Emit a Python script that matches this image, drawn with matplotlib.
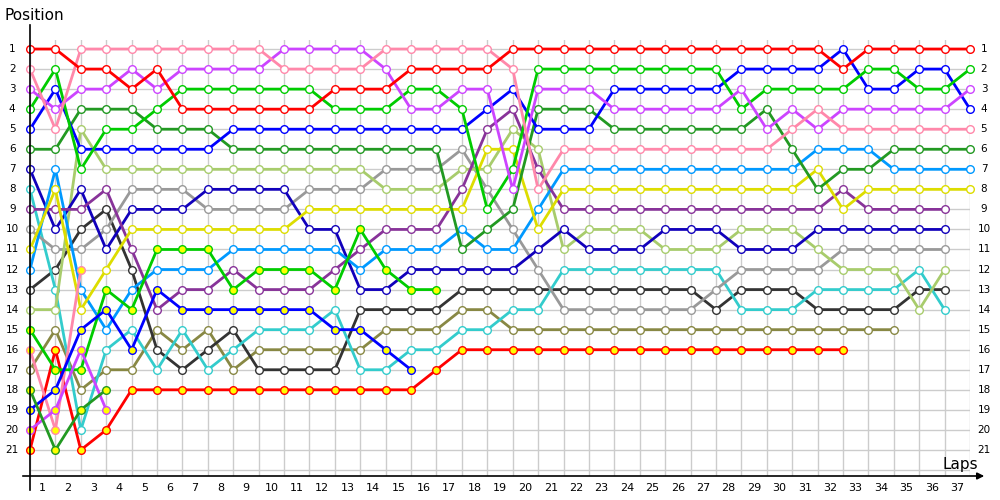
import matplotlib.pyplot as plt

# positions par tour (index 0 = grille de départ)
red = [1, 1, 2, 2, 3, 2] + [4] * 6 + [3] * 3 + [2] * 4 + [1] * 13 + [2] + [1] * 5
pink = [2, 5] + [1] * 8 + [2] * 4 + [1] * 5 + [2, 8] + [6] * 9 + [5, 4] + [5] * 6
purple = [3, 4, 3, 3, 2, 3] + [2] * 4 + [1] * 4 + [2, 4, 4, 3, 3, 8] + [3] * 3 + [4] * 5 + [3, 5, 4, 5] + [4] * 5 + [3]
green = [4, 2, 7, 5, 5, 4] + [3] * 6 + [4] * 3 + [3, 3, 4, 9, 7] + [2] * 8 + [4] + [3] * 4 + [2, 2, 3, 3, 2]
blue = [5, 3] + [6] * 6 + [5] * 10 + [4, 3] + [5] * 3 + [3] * 5 + [2] * 4 + [1, 3, 3, 2, 2, 4]
dkgreen = [6, 6, 4, 4, 4, 5, 5, 5] + [6] * 9 + [11, 10, 9] + [4] * 3 + [5] * 6 + [4, 6, 8, 7, 7] + [6] * 4
navy = [7, 10, 8, 11, 9, 9, 9] + [8] * 4 + [10, 10, 13, 13] + [12] * 5 + [11, 10] + [11] * 3 + [10] * 3 + [11] * 3 + [10] * 6
ltgreen = [14, 14, 5] + [7] * 11 + [8] * 3 + [7, 7, 5, 6, 11] + [10] * 3 + [11] * 3 + [10] * 3 + [11] + [12] * 3 + [14, 12]
gray = [10, 11, 11, 10, 8, 8, 8] + [9] * 4 + [8, 8, 8] + [7] * 3 + [6, 8, 10, 12] + [14] * 6 + [13] + [12] * 4 + [11] * 5
yellow = [11, 8, 14, 12] + [10] * 7 + [9] * 7 + [6, 6, 10] + [8] * 10 + [7, 9] + [8] * 5
dkpurple = [9, 9, 9, 8, 11, 14, 13, 13, 12, 13, 13, 13, 12, 11, 10, 10, 10, 8, 5, 4, 7] + [9] * 11 + [8] + [9] * 4
ltblue = [12, 7, 13, 15, 13, 12, 12, 12] + [11] * 5 + [12] + [11] * 3 + [10, 11, 11, 9] + [7] * 10 + [6] * 3 + [7] * 4
teal = [8, 13, 20, 16, 15, 17, 15, 17, 16, 15, 15, 15, 14, 17, 17, 16, 16, 15, 15, 14, 14] + [12] * 7 + [14] * 3 + [13] * 4 + [12, 14]
black = [13, 12, 10, 9, 12, 16, 17, 16, 15] + [17] * 4 + [14] * 4 + [13] * 10 + [14] + [13] * 3 + [14] * 4 + [13, 13]
olive = [17, 15, 18, 17, 17, 15, 16, 15, 17] + [16] * 5 + [15] * 3 + [14, 14] + [15] * 16
red_y = [21, 16, 21, 20] + [18] * 12 + [17] + [16] * 16
pink_y = [16, 20, 12]
green_y = [15, 17, 17, 13, 14, 11, 11, 11, 13, 12, 12, 12, 13, 10, 12, 13, 13]
blue_y = [19, 18, 15, 14, 16, 13] + [14] * 6 + [15, 15, 16, 17]
purple_y = [20, 19, 16, 19]
dkgreen_y = [18, 21, 19, 18]

drivers = [
    (olive, "#888844", "white"),
    (black, "#333333", "white"),
    (teal, "#33cccc", "white"),
    (gray, "#999999", "white"),
    (ltgreen, "#a8cc6c", "white"),
    (navy, "#1100bb", "white"),
    (ltblue, "#0099ff", "white"),
    (dkpurple, "#883399", "white"),
    (yellow, "#dddd00", "white"),
    (dkgreen, "#229922", "white"),
    (blue, "#0000ff", "white"),
    (green, "#00cc00", "white"),
    (purple, "#cc44ff", "white"),
    (pink, "#ff88aa", "white"),
    (red_y, "#ff0000", "#ffff00"),
    (pink_y, "#ff88aa", "#ffff00"),
    (green_y, "#00cc00", "#ffff00"),
    (blue_y, "#0000ff", "#ffff00"),
    (purple_y, "#cc44ff", "#ffff00"),
    (dkgreen_y, "#229922", "#ffff00"),
    (red, "#ff0000", "white"),
]

fig = plt.figure(figsize=(10, 5), dpi=100)
ax = fig.add_axes([0.03, 0.048, 0.94, 0.872])
ax.set_xlim(0, 37)
ax.set_ylim(22.3, 0.55)

# grille
for k in range(38):
    ax.axvline(k, color="#cccccc", lw=1, zorder=0)
for p in range(1, 23):
    ax.axhline(p, color="#cccccc", lw=1, zorder=0)

for pos, col, fill in drivers:
    ax.plot(range(len(pos)), pos, color=col, lw=2, marker="o", ms=5.5,
            mfc=fill, mec=col, mew=1, clip_on=False, zorder=3)

ax.set_xticks([])
ax.set_yticks([])
for s in ax.spines.values():
    s.set_visible(False)

# libellés
for p in range(1, 22):
    ax.text(-0.7, p, str(p), ha="center", va="center", fontsize=7.5)
    ax.text(37.55, p, str(p), ha="center", va="center", fontsize=7.5)
for lap in range(1, 38):
    ax.text(lap - 0.5, 22.9, str(lap), ha="center", va="center", fontsize=8)

# axes avec flèches (coordonnées figure)
fig.add_artist(plt.Line2D([0.03, 0.03], [0.02, 0.95], color="black", lw=1.2))
ax.annotate("", xy=(0.987, 0.048), xytext=(0.02, 0.048), xycoords="figure fraction",
            arrowprops=dict(arrowstyle="-|>", color="black", lw=1.2, mutation_scale=10))
fig.text(0.005, 0.97, "Position", fontsize=11, ha="left", va="center")
fig.text(0.943, 0.07, "Laps", fontsize=11, ha="left", va="center")

plt.savefig("out.png", dpi=100)
